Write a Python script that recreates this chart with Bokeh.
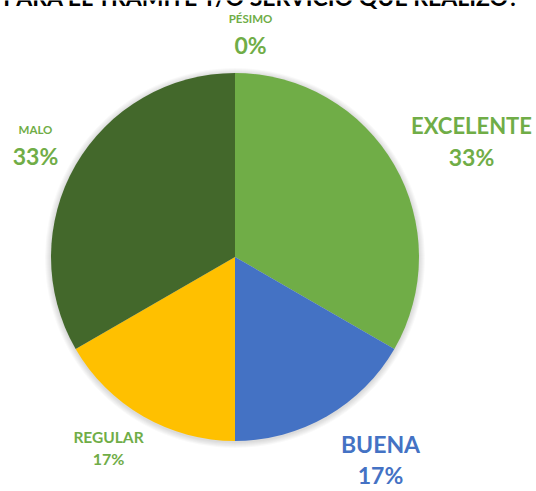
import numpy as np
from bokeh.plotting import figure
from bokeh.models import Range1d, ColumnDataSource
from bokeh.core.properties import value
from bokeh.embed import file_html
from bokeh.resources import INLINE

# ---- data ----
categories = ["EXCELENTE", "BUENA", "REGULAR", "MALO", "PÉSIMO"]
counts = [2, 1, 1, 2, 0]
colors = ["#70AD47", "#4472C4", "#FFC000", "#43682B", "#A5A5A5"]
label_colors = ["#70AD47", "#4472C4", "#70AD47", "#70AD47", "#70AD47"]
title_text = "PARA EL TRÁMITE Y/O SERVICIO QUE REALIZÓ?"

W, H = 536, 491
total = sum(counts)
shares = np.array(counts) / total
cum = np.cumsum(shares)
prev = np.concatenate([[0], cum[:-1]])
start = np.pi / 2 - prev * 2 * np.pi
end = np.pi / 2 - cum * 2 * np.pi
pct = [f"{round(s * 100)}%" for s in shares]

cx, cy, R = 234.5, H - 256.5, 184

p = figure(width=W, height=H, x_range=Range1d(0, W), y_range=Range1d(0, H),
           output_backend="svg", toolbar_location=None, min_border=0)
p.axis.visible = False
p.grid.visible = False
p.outline_line_color = None
p.background_fill_color = "white"

# soft shadow
for i in range(6):
    p.circle(x=[cx], y=[cy - 1], radius=R + 1 + i, radius_units="screen",
             fill_color="black", fill_alpha=0.025, line_color=None)

mask = [c > 0 for c in counts]
src = ColumnDataSource(dict(cat=[c for c, m in zip(categories, mask) if m],
                            start=[float(a) for a, m in zip(start, mask) if m],
                            end=[float(a) for a, m in zip(end, mask) if m],
                            color=[c for c, m in zip(colors, mask) if m]))
p.wedge(x=cx, y=cy, radius=R, radius_units="screen", start_angle="start",
        end_angle="end", direction="clock", fill_color="color", line_color=None,
        source=src)

def ypos(bottom, size):
    # empirical correction so the cap bottom lands at `bottom` px from top
    return H - (bottom - 0.38 * size)

# labels: (name x, name y-bottom, name size, pct y-bottom, pct size)
layout = {
    "EXCELENTE": (471, 133, 22, 165, 23),
    "BUENA": (380, 452, 23, 483, 23),
    "REGULAR": (108, 442, 15.5, 464, 16),
    "MALO": (35, 133, 11.5, 164, 23),
    "PÉSIMO": (250, 22, 11.5, 53, 23),
}
for cat, col, pc in zip(categories, label_colors, pct):
    x, ny, ns, py, ps = layout[cat]
    p.text(x=[x], y=[ypos(ny, ns)], text=[cat], text_font=value("Lato"),
           text_font_style="bold", text_font_size=f"{ns}px", text_color=col,
           text_align="center", text_baseline="alphabetic")
    p.text(x=[x], y=[ypos(py, ps)], text=[pc], text_font=value("Lato"),
           text_font_style="bold", text_font_size=f"{ps}px", text_color=col,
           text_align="center", text_baseline="alphabetic")

p.text(x=[262], y=[ypos(5, 23)], text=[title_text], text_font=value("Lato"),
       text_font_style="bold", text_font_size="23px", text_color="black",
       text_align="center", text_baseline="alphabetic")

open("out.html", "w").write(file_html(p, INLINE))
